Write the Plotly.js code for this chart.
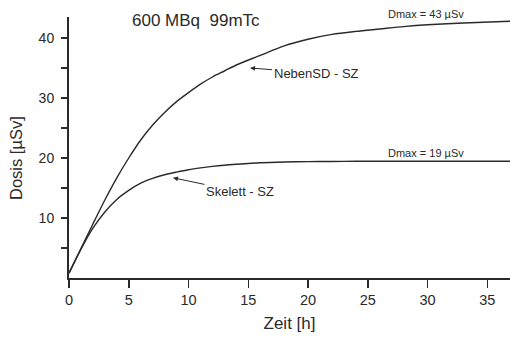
<!DOCTYPE html>
<html>
<head>
<meta charset="utf-8">
<script src="https://cdn.plot.ly/plotly-3.0.1.min.js"></script>
<style>html,body{margin:0;padding:0;background:#fff;}#chart{width:510px;height:338px;}</style>
</head>
<body>
<div id="chart"></div>
<script>
// Time [h]
const zeit = [0, 1, 2, 3, 4, 5, 6, 7, 8, 9, 10, 11, 12, 13, 14, 16, 18, 20, 22, 24, 26, 28, 30, 33, 37];
// NebenSD - SZ dose [µSv]
const nebenSD = [0.8, 4.9, 9.0, 13.0, 16.7, 20.0, 23.0, 25.5, 27.6, 29.4, 30.9, 32.3, 33.5, 34.5, 35.5, 37.1, 38.7, 39.8, 40.6, 41.1, 41.5, 41.9, 42.2, 42.5, 42.8];
// Skelett - SZ dose [µSv]
const skelett = [0.8, 4.8, 8.3, 11.0, 13.1, 14.6, 15.8, 16.6, 17.2, 17.65, 18.05, 18.35, 18.6, 18.8, 18.95, 19.2, 19.33, 19.4, 19.42, 19.45, 19.45, 19.45, 19.45, 19.45, 19.45];
const xTicks = [0, 5, 10, 15, 20, 25, 30, 35];
const yTicks = [5, 10, 15, 20, 25, 30, 35, 40];
const yTickText = ['', '10', '', '20', '', '30', '', '40'];

const fontFam = 'Arial, "Liberation Sans", sans-serif';
const ink = '#2a2a2a';

const traces = [
  {x: zeit, y: nebenSD, mode: 'lines', line: {color: ink, width: 1.4, shape: 'spline', smoothing: 0.8}, name: 'NebenSD - SZ', hoverinfo: 'skip'},
  {x: zeit, y: skelett, mode: 'lines', line: {color: ink, width: 1.4, shape: 'spline', smoothing: 0.8}, name: 'Skelett - SZ', hoverinfo: 'skip'}
];

const layout = {
  width: 510, height: 338,
  margin: {l: 69, r: 0, t: 17, b: 60},
  paper_bgcolor: '#fff', plot_bgcolor: '#fff',
  showlegend: false,
  font: {family: fontFam, color: ink, size: 14},
  xaxis: {
    range: [0, 36.9], showgrid: false, zeroline: false,
    showline: true, linecolor: ink, linewidth: 2,
    ticks: 'outside', ticklen: 8, tickwidth: 1.5, tickcolor: ink,
    tickvals: xTicks, ticktext: xTicks.map(String),
    tickfont: {size: 14.5, family: fontFam, color: ink},
    title: {text: 'Zeit [h]', font: {size: 17, family: fontFam, color: ink}, standoff: 10}
  },
  yaxis: {
    range: [0, 43.5], showgrid: false, zeroline: false,
    showline: true, linecolor: ink, linewidth: 2,
    ticks: 'outside', ticklen: 6, tickwidth: 1.5, tickcolor: ink,
    tickvals: yTicks, ticktext: yTickText,
    ticklabelstandoff: 4,
    tickfont: {size: 14, family: fontFam, color: ink}
  },
  annotations: [
    {x: 0, y: 0, xref: 'paper', yref: 'paper', text: 'Dosis [µSv]', showarrow: false, textangle: -90,
     font: {size: 16.5, family: fontFam, color: ink}, xanchor: 'center', yanchor: 'middle'},
    {x: 10.65, y: (278 - 20) / 6, xref: 'x', yref: 'y', text: '600 MBq  99mTc', showarrow: false,
     font: {size: 17, family: fontFam, color: ink}, yanchor: 'middle'},
    {x: 29.9, y: (278 - 14) / 261, xref: 'x', yref: 'paper', text: 'Dmax = 43 µSv', showarrow: false,
     font: {size: 11, family: fontFam, color: ink}, yanchor: 'middle'},
    {x: 29.9, y: 20.8, xref: 'x', yref: 'y', text: 'Dmax = 19 µSv', showarrow: false,
     font: {size: 11, family: fontFam, color: ink}, yanchor: 'middle'},
    {x: 15.15, y: 35.0, xref: 'x', yref: 'y', text: 'NebenSD - SZ', showarrow: true,
     ax: 66, ay: 5, arrowhead: 2, arrowsize: 1, arrowwidth: 1, arrowcolor: ink,
     font: {size: 13, family: fontFam, color: ink}},
    {x: 8.7, y: 16.7, xref: 'x', yref: 'y', text: 'Skelett - SZ', showarrow: true,
     ax: 67, ay: 14, arrowhead: 2, arrowsize: 1, arrowwidth: 1, arrowcolor: ink,
     font: {size: 13, family: fontFam, color: ink}}
  ]
};

// Dosis title is positioned in pixels; convert to paper coords
layout.annotations[0].x = (16 - 69) / 441;
layout.annotations[0].y = (278 - 158) / 261;

Plotly.newPlot('chart', traces, layout, {displayModeBar: false, staticPlot: true});
</script>
</body>
</html>
